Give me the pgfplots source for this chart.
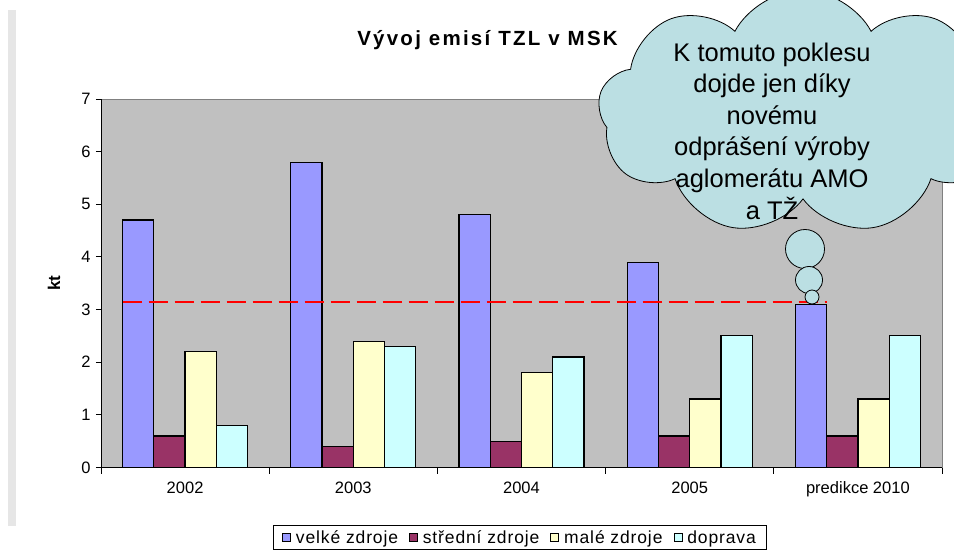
\documentclass[border=0pt]{standalone}
\usepackage{fontspec}
\setmainfont{Liberation Sans}
\newfontfamily\titlefont[LetterSpace=11]{Liberation Sans}
\newfontfamily\legendfont[LetterSpace=5]{Liberation Sans}
\usepackage{pgfplots}
\pgfplotsset{compat=1.18}
\usetikzlibrary{shapes.symbols}
\definecolor{velke}{HTML}{9999FF}
\definecolor{stredni}{HTML}{993366}
\definecolor{male}{HTML}{FFFFCC}
\definecolor{doprava}{HTML}{CCFFFF}
\definecolor{plotbg}{HTML}{C0C0C0}
\definecolor{cloudfill}{HTML}{BBDFE3}
\definecolor{stripgray}{HTML}{E6E6E6}
\pgfplotsset{
  sqlegend/.style={legend image code/.code={\draw[##1, line width=0.8bp] (0bp,-4bp) rectangle (8bp,4bp);}},
  mybar/.style={ybar, bar width=0.186, draw=black, line width=1.2bp, sqlegend},
}
\begin{document}
\begin{tikzpicture}
\fill[stripgray] (-93bp,457.5bp) rectangle (-85bp,-58.5bp);
\begin{axis}[
  scale only axis, width=841bp, height=368.5bp,
  xmin=-0.5, xmax=4.5, ymin=0, ymax=7,
  xtick={0,1,2,3,4},
  xticklabels={2002,2003,2004,2005,predikce 2010},
  minor xtick={-0.5,0.5,1.5,2.5,3.5,4.5},
  ytick={0,1,2,3,4,5,6,7},
  tick pos=left, tick align=outside,
  major tick length=5bp, minor tick length=6bp,
  major x tick style={draw=none},
  tick style={black, line width=0.9bp},
  axis background/.style={fill=plotbg},
  axis line style={draw=gray, line width=0.9bp},
  /pgf/number format/assume math mode=true,
  ticklabel style={font=\fontsize{16.5bp}{19bp}\selectfont},
  xticklabel style={yshift=-6bp},
  yticklabel style={xshift=-2bp},
  ylabel={kt},
  ylabel style={font=\bfseries\fontsize{17bp}{20bp}\selectfont, at={(axis description cs:-0.0559,0.5)}, anchor=center},
  legend style={at={(axis description cs:0.4982,-0.156)}, anchor=north, legend columns=-1,
    draw=black, line width=0.9bp, fill=white, font=\legendfont\fontsize{17.5bp}{20bp}\selectfont,
    inner xsep=9bp, inner ysep=3bp,
    /tikz/every odd column/.append style={column sep=3bp},
    /tikz/every even column/.append style={column sep=9bp}},
  legend cell align=left,
]
\addplot[mybar, fill=velke, bar shift=-0.279] coordinates {(0,4.7) (1,5.8) (2,4.8) (3,3.9) (4,3.1)};
\addlegendentry{velké zdroje}
\addplot[mybar, fill=stredni, bar shift=-0.093] coordinates {(0,0.6) (1,0.4) (2,0.5) (3,0.6) (4,0.6)};
\addlegendentry{střední zdroje}
\addplot[mybar, fill=male, bar shift=0.093] coordinates {(0,2.2) (1,2.4) (2,1.8) (3,1.3) (4,1.3)};
\addlegendentry{malé zdroje}
\addplot[mybar, fill=doprava, bar shift=0.279] coordinates {(0,0.8) (1,2.3) (2,2.1) (3,2.5) (4,2.5)};
\addlegendentry{doprava}
\addplot[sharp plot, red, line width=2bp, dash pattern=on 19bp off 7bp, forget plot] coordinates {(-0.372,3.15) (3.814,3.15)};
\draw[black, line width=0.9bp] (rel axis cs:0,1) -- (rel axis cs:0,0) -- (rel axis cs:1,0);
\end{axis}
\node[anchor=base, font=\titlefont\bfseries\fontsize{20.5bp}{24bp}\selectfont] at (386.5bp,421.8bp) {Vývoj emisí TZL v MSK};
\node[cloud, cloud puffs=9, cloud puff arc=125, draw=black, line width=0.8bp, fill=cloudfill, minimum width=410bp, minimum height=245bp, inner sep=0pt] at (702bp,355bp) {};
\filldraw[fill=cloudfill, draw=black, line width=0.8bp] (704bp,218.5bp) circle (19.5bp);
\filldraw[fill=cloudfill, draw=black, line width=0.8bp] (708bp,187.5bp) circle (13.5bp);
\filldraw[fill=cloudfill, draw=black, line width=0.8bp] (711bp,170.5bp) circle (7bp);
\node[align=center, font=\fontsize{25.5bp}{31.6bp}\selectfont] at (671bp,336.5bp) {K tomuto poklesu\\dojde jen díky\\novému\\odprášení výroby\\aglomerátu AMO\\a TŽ};
\pgfresetboundingbox
\path[use as bounding box] (-101bp,-89.5bp) rectangle (853bp,467.5bp);
\end{tikzpicture}
\end{document}
